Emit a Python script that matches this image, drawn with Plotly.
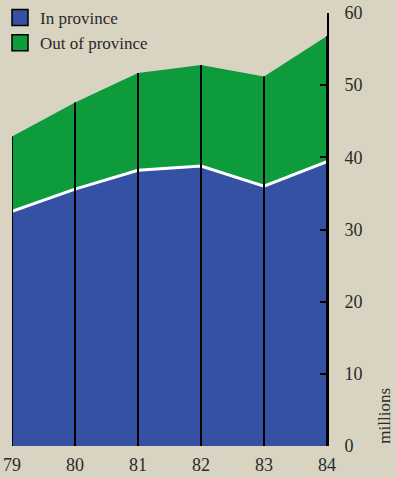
import plotly.graph_objects as go

# Visitors, millions, 1979-1984
years = [79, 80, 81, 82, 83, 84]
year_labels = ["79", "80", "81", "82", "83", "84"]
in_province = [32.5, 35.6, 38.2, 38.8, 36.0, 39.4]
out_of_province = [10.4, 12.0, 13.5, 14.0, 15.2, 17.4]
y_ticks = [0, 10, 20, 30, 40, 50, 60]

total = [a + b for a, b in zip(in_province, out_of_province)]

BG = "#d9d4c1"
BLUE = "#3451a3"
GREEN = "#0e9b3c"
INK = "#2a2a2a"
FONT = "Liberation Serif"

fig = go.Figure()

# Stacked areas
fig.add_trace(go.Scatter(x=years, y=in_province, mode="lines", fill="tozeroy",
                         fillcolor=BLUE, line=dict(width=0, color=BLUE),
                         showlegend=False, hoverinfo="skip"))
fig.add_trace(go.Scatter(x=years, y=total, mode="lines", fill="tonexty",
                         fillcolor=GREEN, line=dict(width=0, color=GREEN),
                         showlegend=False, hoverinfo="skip"))
# White boundary between the two series
fig.add_trace(go.Scatter(x=years, y=in_province, mode="lines",
                         line=dict(width=3, color="white"),
                         showlegend=False, hoverinfo="skip"))

# Vertical year rules from the base to the top of the stack
for x, t in zip(years, total):
    fig.add_trace(go.Scatter(x=[x, x], y=[0, t], mode="lines",
                             line=dict(width=2, color="black"),
                             showlegend=False, hoverinfo="skip"))

# Legend entries
fig.add_trace(go.Scatter(x=[None], y=[None], mode="markers", name="In province",
                         marker=dict(symbol="square", size=17, color=BLUE,
                                     line=dict(width=1.5, color="black"))))
fig.add_trace(go.Scatter(x=[None], y=[None], mode="markers", name="Out of province",
                         marker=dict(symbol="square", size=17, color=GREEN,
                                     line=dict(width=1.5, color="black"))))

fig.add_annotation(text="millions", xref="paper", yref="paper",
                   x=1.18, y=0.0, xanchor="center", yanchor="bottom",
                   textangle=-90, showarrow=False,
                   font=dict(size=17, color=INK))

fig.update_layout(
    width=396, height=478,
    margin=dict(l=12, r=69, t=13, b=32, autoexpand=False),
    paper_bgcolor=BG, plot_bgcolor=BG,
    font=dict(family=FONT, size=17, color=INK),
    showlegend=True,
    legend=dict(xref="container", yref="container", x=0.0, y=1.0,
                xanchor="left", yanchor="top",
                traceorder="normal",
                bgcolor="rgba(0,0,0,0)", font=dict(size=17, color=INK),
                itemsizing="trace", tracegroupgap=0),
    xaxis=dict(range=[79, 84], tickvals=years, ticktext=year_labels,
               showgrid=False, zeroline=False, showline=False, ticks="",
               ticklabelstandoff=6, automargin=False,
               tickfont=dict(size=18, color=INK), fixedrange=True),
    yaxis=dict(range=[0, 60], tickvals=y_ticks, side="right",
               showgrid=False, zeroline=False, showline=True,
               linecolor="black", linewidth=2, ticks="inside", ticklen=7,
               tickwidth=2, tickcolor="black", ticklabelstandoff=12,
               automargin=False,
               tickfont=dict(size=18, color=INK), fixedrange=True),
)

fig.write_html("out.html")
